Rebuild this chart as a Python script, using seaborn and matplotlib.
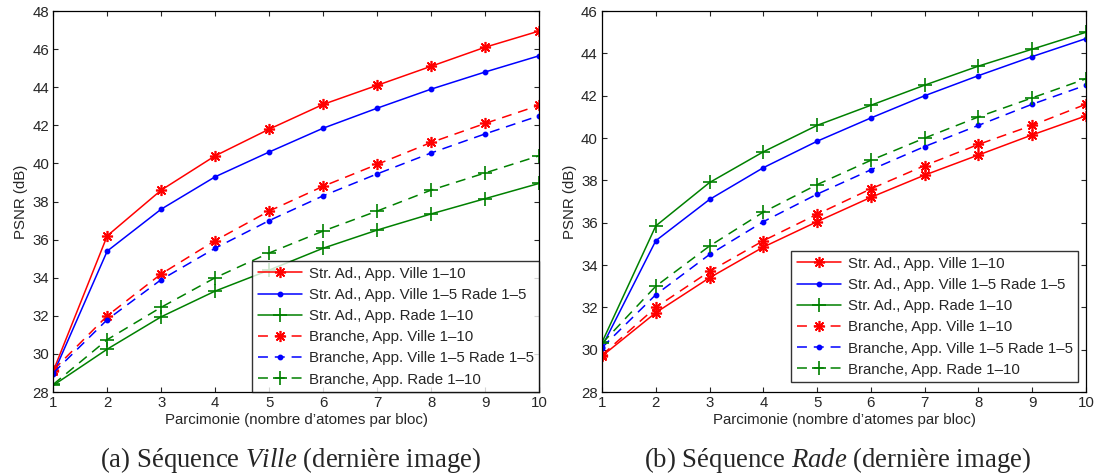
import matplotlib
matplotlib.use("Agg")
import matplotlib.pyplot as plt
import pandas as pd
import seaborn as sns

# sparsity levels (atoms per block)
sparsity = [1, 2, 3, 4, 5, 6, 7, 8, 9, 10]

labels = ["Str. Ad., App. Ville 1–10",
          "Str. Ad., App. Ville 1–5 Rade 1–5",
          "Str. Ad., App. Rade 1–10",
          "Branche, App. Ville 1–10",
          "Branche, App. Ville 1–5 Rade 1–5",
          "Branche, App. Rade 1–10"]

# (a) Ville sequence
ville_str_ville = [29.1, 36.2, 38.6, 40.4, 41.8, 43.1, 44.1, 45.1, 46.1, 46.95]
ville_str_mix = [28.95, 35.4, 37.6, 39.3, 40.6, 41.85, 42.9, 43.9, 44.8, 45.65]
ville_str_rade = [28.35, 30.25, 31.95, 33.3, 34.4, 35.55, 36.5, 37.35, 38.15, 38.95]
ville_br_ville = [29.15, 32.0, 34.2, 35.95, 37.5, 38.8, 39.95, 41.1, 42.1, 43.05]
ville_br_mix = [29.0, 31.8, 33.9, 35.55, 37.0, 38.3, 39.45, 40.55, 41.55, 42.5]
ville_br_rade = [28.4, 30.75, 32.45, 34.0, 35.3, 36.45, 37.5, 38.6, 39.5, 40.4]

# (b) Rade sequence
rade_str_ville = [29.7, 31.75, 33.4, 34.85, 36.05, 37.2, 38.25, 39.2, 40.15, 41.05]
rade_str_mix = [30.15, 35.15, 37.1, 38.6, 39.85, 40.95, 42.0, 42.95, 43.85, 44.7]
rade_str_rade = [30.35, 35.85, 37.9, 39.35, 40.6, 41.55, 42.5, 43.4, 44.2, 45.0]
rade_br_ville = [29.75, 32.0, 33.7, 35.15, 36.4, 37.6, 38.7, 39.7, 40.6, 41.6]
rade_br_mix = [30.1, 32.6, 34.5, 36.05, 37.35, 38.5, 39.6, 40.6, 41.6, 42.5]
rade_br_rade = [30.3, 33.0, 34.9, 36.5, 37.8, 38.95, 40.0, 41.0, 41.9, 42.8]

colors = ["#ff0000", "#0000ff", "#008000"] * 2
markers = [(8, 2, 0), ".", "+"] * 2
msizes = [8, 6, 10] * 2
dashed = [False] * 3 + [True] * 3

sns.set_style("ticks")
plt.rcParams["font.family"] = ["Liberation Sans", "DejaVu Sans"]
plt.rcParams["mathtext.fontset"] = "custom"
plt.rcParams["mathtext.rm"] = "Liberation Serif"
plt.rcParams["mathtext.it"] = "Liberation Serif:italic"


def draw(ax, series, ylim, legend_anchor):
    for i, vals in enumerate(series):
        df = pd.DataFrame({"x": sparsity, "y": vals})
        sns.lineplot(data=df, x="x", y="y", ax=ax, color=colors[i],
                     marker=markers[i], markersize=msizes[i],
                     markeredgecolor=colors[i], markeredgewidth=1.2,
                     linewidth=1.1, label=labels[i])
        if dashed[i]:
            ax.lines[-1].set_dashes((6.5, 4.5))
    ax.set_xlim(1, 10)
    ax.set_ylim(*ylim)
    ax.set_xticks(sparsity)
    ax.set_yticks(range(ylim[0], ylim[1] + 1, 2))
    ax.tick_params(direction="in", top=True, right=True, labelsize=10.8,
                   length=3.6, width=0.8, pad=3)
    for s in ax.spines.values():
        s.set_visible(True)
        s.set_linewidth(0.9)
        s.set_color("black")
    ax.set_xlabel("Parcimonie (nombre d’atomes par bloc)", fontsize=10.8, labelpad=2)
    ax.set_ylabel("PSNR (dB)", fontsize=10.8, labelpad=3)
    leg = ax.legend(loc="lower right", bbox_to_anchor=legend_anchor,
                    borderaxespad=0, fontsize=10.8, frameon=True, fancybox=False,
                    handlelength=2.95, labelspacing=0.48, borderpad=0.36,
                    handletextpad=0.45)
    leg.get_frame().set_edgecolor("black")
    leg.get_frame().set_linewidth(1.0)


fig = plt.figure(figsize=(10.98, 4.75), dpi=100)
ax1 = fig.add_axes([0.0485, 0.1747, 0.4424, 0.802])
ax2 = fig.add_axes([0.5483, 0.1747, 0.4408, 0.802])

draw(ax1, [ville_str_ville, ville_str_mix, ville_str_rade,
           ville_br_ville, ville_br_mix, ville_br_rade], (28, 48), (1, 0))
draw(ax2, [rade_str_ville, rade_str_mix, rade_str_rade,
           rade_br_ville, rade_br_mix, rade_br_rade], (28, 46), (0.9835, 0.026))

serif = ["Liberation Serif", "DejaVu Serif"]
for xc, pre, name in [(0.2646, "(a) Séquence ", "Ville"),
                      (0.763, "(b) Séquence ", "Rade")]:
    fig.text(xc, 0.017, pre + "$\\mathit{" + name + "}$" + " (dernière image)",
             ha="center", va="baseline", fontsize=19.3, family=serif)

fig.savefig("out.png", dpi=100)
